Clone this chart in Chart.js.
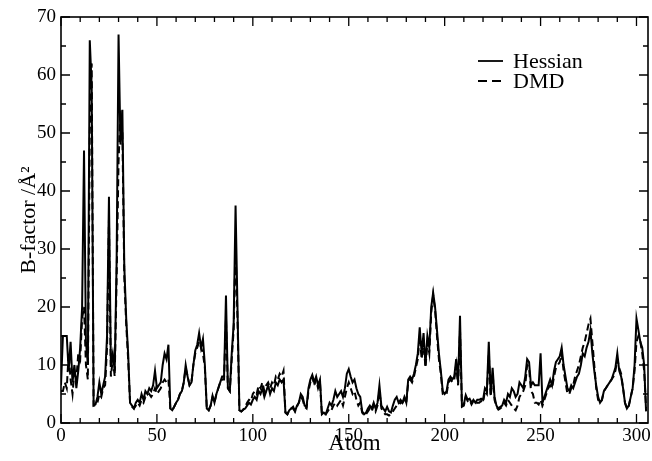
<!DOCTYPE html>
<html>
<head>
<meta charset="utf-8">
<script src="https://cdn.jsdelivr.net/npm/chart.js@4/dist/chart.umd.min.js"></script>
<style>
    html, body { margin: 0; padding: 0; background: #ffffff; }
    #wrap { width: 652px; height: 461px; }
</style>
</head>
<body>
<div id="wrap"><canvas id="bfactorChart" width="652" height="461"></canvas></div>
<script>
// B-factor per atom (index = atom number)
const hessian = [
    6.5, 15, 15, 15, 9, 14, 7, 10, 6, 9,
    13, 20, 47, 14, 10, 66, 58, 3, 3.2, 4.5,
    7, 5, 6.5, 8, 15, 39, 10, 12, 9, 28,
    67, 48, 54, 27, 18, 12, 3.5, 3, 2.5, 3.5,
    4, 3.5, 5, 4, 5.5, 5, 6, 5.5, 6.5, 9,
    6, 6.5, 7, 10, 12, 11, 13.5, 2.5, 2.2, 2.8,
    3.5, 4, 5, 5.5, 7, 10, 8, 6.5, 7, 10,
    12.5, 13.5, 15.5, 13, 14.5, 10, 2.5, 2.2, 3, 4.7,
    3.5, 5, 6, 7, 8, 8, 22, 6, 5.5, 12,
    17, 37.5, 20, 2.2, 2, 2.3, 2.5, 3, 3.5, 3.2,
    4, 4.5, 4, 5.5, 5, 6, 4.5, 5.5, 6.5, 5,
    6, 5.5, 7, 6.5, 7.5, 7, 7.5, 1.8, 1.5, 2.2,
    2.5, 2.8, 2, 3, 3.5, 5, 4.5, 3, 2.8, 6,
    7.5, 8.3, 7, 8, 6.5, 7.5, 1.5, 1.8, 1.5, 2.5,
    3.5, 3, 4, 5.5, 4.5, 5, 5.5, 4.5, 6, 8.5,
    9.3, 8, 7, 7.5, 6, 5, 4.5, 2, 1.5, 1.8,
    2.5, 3, 2.5, 3.5, 2.5, 3.5, 6.5, 3, 2.5, 2,
    2.8, 2, 1.8, 3, 4, 4.5, 3.5, 4, 3.5, 4.5,
    3.5, 7.5, 8, 7.5, 8.5, 10, 12, 16.5, 12, 15.5,
    10, 15, 13, 20, 22.5, 20, 16, 12, 9, 5.5,
    5, 5.5, 7.5, 8, 7.5, 8, 11, 7, 18.5, 3,
    3.2, 4.8, 4, 4.2, 3.5, 4, 3.5, 4, 4, 4.2,
    4, 6, 5.5, 14, 5, 9.5, 4.5, 3, 2.5, 2.8,
    3, 4, 3.5, 5, 4.5, 6, 5.5, 4.5, 5, 7,
    6.5, 6, 8, 11, 10.5, 6.5, 7, 6.5, 6.5, 6.5,
    12, 3.5, 4.5, 5.5, 6.5, 7.5, 6.5, 9, 10.5, 11,
    11.5, 13, 10, 8, 6, 5.5, 6.5, 6, 7, 8,
    8.5, 10, 12, 11.5, 13, 14, 16, 12, 9, 6.5,
    4.5, 3.5, 4, 5.5, 6, 6.5, 7, 7.5, 8.5, 9.5,
    12, 9, 8, 6, 3.5, 2.5, 3, 4.5, 6, 10,
    18, 16, 14, 13, 10, 2
];

const dmd = [
    5.5, 5.5, 7, 6, 12, 7.5, 5, 9, 7.5, 12,
    11, 18, 20, 10, 7.5, 50, 62, 3, 3, 3.5,
    5, 4.5, 6, 6.5, 13, 35, 8, 11, 8, 25,
    45, 54, 50, 25, 17, 11, 3.5, 2.8, 2.5, 3,
    3.5, 3, 4, 3.5, 4.5, 4.5, 5, 4.5, 5, 6,
    5, 5.5, 6, 7, 7.5, 7, 7.5, 2.5, 2.2, 2.8,
    3.5, 4, 5, 5.5, 7, 9.5, 8, 6.5, 7, 10,
    12, 13, 14, 13, 12, 9.5, 2.5, 2.2, 3, 4.5,
    3.5, 5, 6, 7, 7.5, 7.5, 18, 6, 5.5, 11,
    16, 30, 18, 2.2, 2, 2.3, 2.8, 3.5, 4, 3.8,
    5, 5.5, 5, 6.5, 6, 7, 5.5, 6.5, 7, 6,
    7, 6.5, 8, 7.5, 8.5, 8, 9, 1.8, 1.5, 2.2,
    2.5, 2.5, 2, 2.8, 3.5, 4.5, 4, 2.8, 2.5, 5.5,
    7, 8, 6.5, 7.5, 6, 7, 1.5, 1.5, 1.5, 2,
    2.5, 2.2, 3, 3.5, 3, 3.5, 4, 3, 4.5, 6,
    7, 6, 5, 5.5, 4, 3, 3.5, 1.8, 1.3, 1.5,
    2, 2.5, 2, 3, 2, 3, 5.5, 2.5, 2, 1.5,
    1.5, 1.3, 1.5, 2, 2.5, 3, 3, 3.5, 3.5, 4,
    3.5, 7, 7.5, 7, 8, 9.5, 11, 15, 11, 14,
    9.5, 14, 12, 19, 22, 19.5, 15, 11, 8.5, 5,
    4.8, 5, 7, 7.5, 7, 7.5, 10, 6.5, 16, 2.8,
    3, 4.5, 3.8, 4, 3.2, 3.8, 3.3, 3.5, 3.5, 3.8,
    3.5, 5.5, 5, 12, 4.5, 8.5, 4, 2.8, 2.3, 2.5,
    2.8, 3.5, 3, 4, 3.5, 3, 2.5, 2.2, 3, 4.5,
    5, 5.5, 6.5, 10, 9.5, 5.5, 5, 3.5, 3.5, 3.2,
    4, 3, 4, 5, 6, 6.5, 6, 8, 9.5, 10,
    10.5, 12, 9, 7, 5, 5, 6, 6.5, 8, 9,
    10, 11.5, 13, 14, 15.5, 17, 18, 14, 10, 6,
    4, 3.5, 4, 5.5, 6, 6.5, 7, 7.5, 8, 9,
    11, 9.5, 8.5, 6, 3.5, 2.5, 3, 4.5, 6, 9,
    14, 15, 14, 12, 9, 2.5
];

const xTicks = [0, 50, 100, 150, 200, 250, 300];
const yTicks = [0, 10, 20, 30, 40, 50, 60, 70];
const seriesLabels = ["Hessian", "DMD"];

const serif = "'Liberation Serif', 'DejaVu Serif', serif";

function toPoints(values) {
    return values.map((v, i) => ({ x: i, y: v }));
}

// frame + inward ticks on all four sides (xmgrace style)
const frameTicks = {
    id: "frameTicks",
    afterDatasetsDraw(chart) {
        const { ctx, chartArea: a, scales: { x, y } } = chart;
        ctx.save();
        ctx.strokeStyle = "#000";
        ctx.lineWidth = 1.6;
        ctx.strokeRect(a.left, a.top, a.right - a.left, a.bottom - a.top);
        ctx.lineWidth = 1.3;
        ctx.beginPath();
        for (let v = 0; v <= 300; v += 10) {
            const px = x.getPixelForValue(v);
            const len = v % 50 === 0 ? 9 : 5;
            ctx.moveTo(px, a.bottom); ctx.lineTo(px, a.bottom - len);
            ctx.moveTo(px, a.top); ctx.lineTo(px, a.top + len);
        }
        for (let v = 0; v <= 70; v += 5) {
            const py = y.getPixelForValue(v);
            const len = v % 10 === 0 ? 9 : 5;
            ctx.moveTo(a.left, py); ctx.lineTo(a.left + len, py);
            ctx.moveTo(a.right, py); ctx.lineTo(a.right - len, py);
        }
        ctx.stroke();
        ctx.restore();
    },
};

// legend inside the plot, top right
const insideLegend = {
    id: "insideLegend",
    afterDraw(chart) {
        const { ctx } = chart;
        const rows = [
            { label: seriesLabels[0], dash: [], y: 61 },
            { label: seriesLabels[1], dash: [9, 5], y: 81 },
        ];
        ctx.save();
        ctx.font = "22px " + serif;
        ctx.fillStyle = "#000";
        ctx.strokeStyle = "#000";
        ctx.lineWidth = 1.8;
        ctx.textBaseline = "middle";
        rows.forEach((row) => {
            ctx.setLineDash(row.dash);
            ctx.beginPath();
            ctx.moveTo(478, row.y);
            ctx.lineTo(503, row.y);
            ctx.stroke();
            ctx.setLineDash([]);
            ctx.fillText(row.label, 513, row.y + 1);
        });
        ctx.restore();
    },
};

new Chart(document.getElementById("bfactorChart"), {
    type: "line",
    data: {
        datasets: [
            {
                label: seriesLabels[0],
                data: toPoints(hessian),
                borderColor: "#000",
                borderWidth: 2,
                pointRadius: 0,
                tension: 0,
            },
            {
                label: seriesLabels[1],
                data: toPoints(dmd),
                borderColor: "#000",
                borderWidth: 2,
                borderDash: [7, 4],
                pointRadius: 0,
                tension: 0,
            },
        ],
    },
    options: {
        responsive: false,
        animation: false,
        layout: { padding: { top: 17, right: 4, left: 0, bottom: 0 } },
        plugins: {
            legend: { display: false },
            tooltip: { enabled: false },
        },
        scales: {
            x: {
                type: "linear",
                min: 0,
                max: 306,
                grid: { display: false, drawTicks: false },
                border: { display: false },
                afterBuildTicks(scale) {
                    scale.ticks = xTicks.map((v) => ({ value: v }));
                },
                afterFit(scale) {
                    scale.height = 38;
                    scale.paddingLeft = 0;
                    scale.paddingRight = 0;
                },
                ticks: {
                    padding: 2,
                    maxRotation: 0,
                    color: "#000",
                    font: { family: serif, size: 19 },
                },
                title: {
                    display: true,
                    text: "Atom",
                    color: "#000",
                    font: { family: serif, size: 23 },
                    padding: { top: 0, bottom: 3 },
                },
            },
            y: {
                min: 0,
                max: 70,
                grid: { display: false, drawTicks: false },
                border: { display: false },
                afterBuildTicks(scale) {
                    scale.ticks = yTicks.map((v) => ({ value: v }));
                },
                afterFit(scale) {
                    scale.width = 61;
                    scale.paddingTop = 0;
                    scale.paddingBottom = 0;
                },
                ticks: {
                    padding: 5,
                    color: "#000",
                    font: { family: serif, size: 19 },
                },
                title: {
                    display: true,
                    text: "B-factor /Å²",
                    color: "#000",
                    font: { family: serif, size: 22 },
                    padding: { top: 16, bottom: 0 },
                },
            },
        },
    },
    plugins: [frameTicks, insideLegend],
});
</script>
</body>
</html>
